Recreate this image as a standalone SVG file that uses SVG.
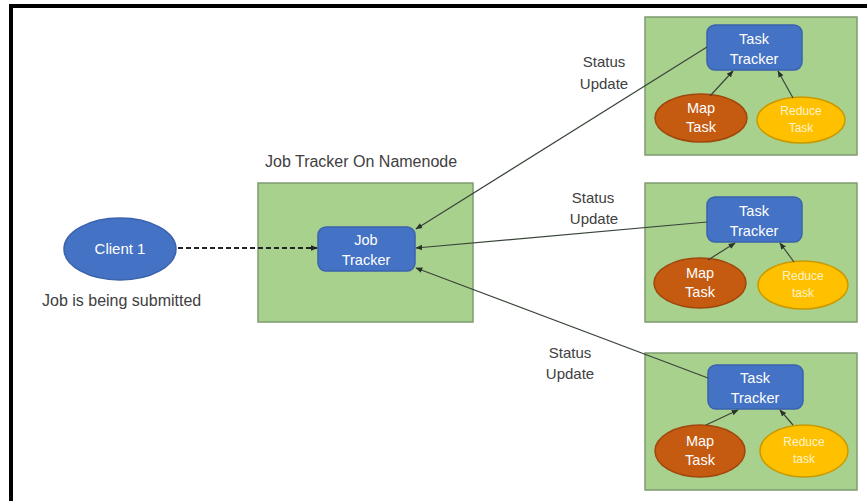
<svg xmlns="http://www.w3.org/2000/svg" width="867" height="501" viewBox="0 0 867 501">
<defs>
<style>
.frame{fill:none;stroke:#000;stroke-width:4}
.green{fill:#a9d18e;stroke:#7f9a72;stroke-width:1.5}
.blue{fill:#4472c4;stroke:#3a62ad;stroke-width:1.5}
.map{fill:#c55a11;stroke:#a0470c;stroke-width:1.5}
.red{fill:#ffc000;stroke:#c99a00;stroke-width:1.5}
.lbl{font-family:"Liberation Sans",Arial,sans-serif;font-size:16px;fill:#404040}
.st{font-family:"Liberation Sans",Arial,sans-serif;font-size:15px;fill:#404040;text-anchor:middle}
.wt{font-family:"Liberation Sans",Arial,sans-serif;font-size:14.5px;fill:#fff;text-anchor:middle}
.rt{font-family:"Liberation Sans",Arial,sans-serif;font-size:12px;fill:#fff4cc;text-anchor:middle}
.conn{stroke:#3a453a;stroke-width:1.2;fill:none;marker-end:url(#ah)}
.dash{stroke:#222;stroke-width:2;stroke-dasharray:5,3;fill:none;marker-end:url(#ah2)}
</style>
<marker id="ah" viewBox="0 0 10 10" refX="9" refY="5" markerWidth="7" markerHeight="7" markerUnits="userSpaceOnUse" orient="auto"><path d="M0,1 L10,5 L0,9 Z" fill="#2a332a"/></marker>
<marker id="ah2" viewBox="0 0 10 10" refX="9" refY="5" markerWidth="7" markerHeight="7" markerUnits="userSpaceOnUse" orient="auto"><path d="M0,1 L10,5 L0,9 Z" fill="#222"/></marker>
</defs>
<rect width="867" height="501" fill="#fff"/>
<path class="frame" d="M11,501 V6 H867"/>

<g id="client">
<ellipse cx="120" cy="249" rx="56" ry="31" class="blue"/>
<text x="120" y="254" class="wt" style="font-size:15px">Client 1</text>
<text x="42" y="306" class="lbl">Job is being submitted</text>
</g>

<g id="jobtracker">
<text x="265" y="167" class="lbl">Job Tracker On Namenode</text>
<rect x="258" y="183" width="215" height="139" class="green"/>
<rect x="318" y="227" width="97" height="44" rx="8" class="blue"/>
<text x="366" y="245" class="wt">Job</text>
<text x="366" y="265" class="wt">Tracker</text>
</g>

<g id="node1">
<rect x="645" y="17" width="212" height="138" class="green"/>
<rect x="707" y="25" width="95" height="45" rx="8" class="blue"/>
<text x="754" y="44" class="wt">Task</text>
<text x="754" y="64" class="wt">Tracker</text>
<ellipse cx="701" cy="118" rx="46" ry="24" class="map"/>
<text x="701" y="113" class="wt">Map</text>
<text x="701" y="132" class="wt">Task</text>
<ellipse cx="801" cy="120" rx="44" ry="23" class="red"/>
<text x="801" y="115" class="rt">Reduce</text>
<text x="801" y="132" class="rt">Task</text>
</g>

<g id="node2">
<rect x="645" y="183" width="212" height="139" class="green"/>
<rect x="707" y="197" width="95" height="45" rx="8" class="blue"/>
<text x="754" y="216" class="wt">Task</text>
<text x="754" y="236" class="wt">Tracker</text>
<ellipse cx="700" cy="283" rx="46" ry="25" class="map"/>
<text x="700" y="278" class="wt">Map</text>
<text x="700" y="297" class="wt">Task</text>
<ellipse cx="803" cy="285" rx="45" ry="24" class="red"/>
<text x="803" y="280" class="rt">Reduce</text>
<text x="803" y="297" class="rt">task</text>
</g>

<g id="node3">
<rect x="645" y="353" width="212" height="137" class="green"/>
<rect x="708" y="365" width="95" height="44" rx="8" class="blue"/>
<text x="755" y="383" class="wt">Task</text>
<text x="755" y="403" class="wt">Tracker</text>
<ellipse cx="700" cy="451" rx="45" ry="26" class="map"/>
<text x="700" y="446" class="wt">Map</text>
<text x="700" y="465" class="wt">Task</text>
<ellipse cx="804" cy="451" rx="44" ry="26" class="red"/>
<text x="804" y="446" class="rt">Reduce</text>
<text x="804" y="463" class="rt">task</text>
</g>

<g id="labels">
<text x="604" y="67" class="st">Status</text>
<text x="604" y="89" class="st">Update</text>
<text x="593" y="203" class="st">Status</text>
<text x="594" y="224" class="st">Update</text>
<text x="570" y="358" class="st">Status</text>
<text x="570" y="379" class="st">Update</text>
</g>

<g id="connectors">
<path class="dash" d="M178,248 H317"/>
<path class="conn" d="M707,47 L416,229"/>
<path class="conn" d="M707,222 L416,248"/>
<path class="conn" d="M708,378 L416,268"/>
<path class="conn" d="M710,96 L733,71"/>
<path class="conn" d="M793,98 L778,71"/>
<path class="conn" d="M708,260 L735,243"/>
<path class="conn" d="M794,262 L780,243"/>
<path class="conn" d="M706,425 L738,410"/>
<path class="conn" d="M793,425 L780,410"/>
</g>
</svg>
